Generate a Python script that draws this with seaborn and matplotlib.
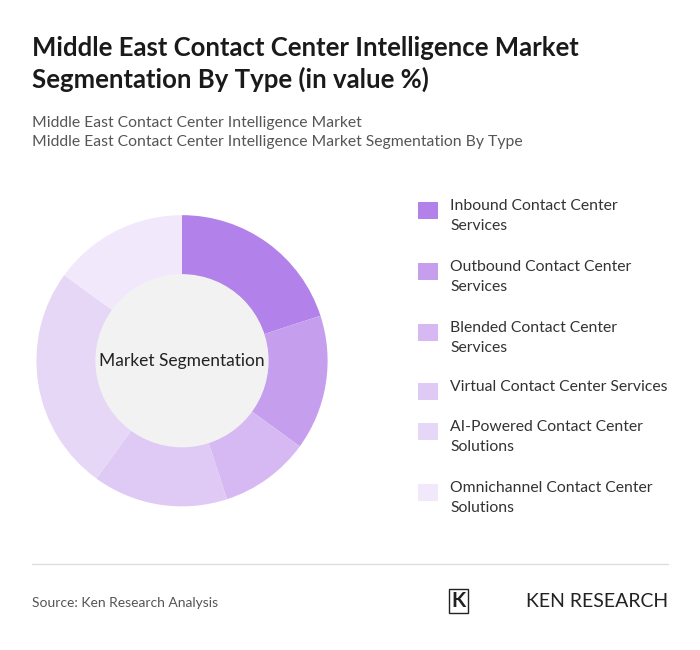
import matplotlib
matplotlib.use("Agg")
import matplotlib.pyplot as plt
import seaborn as sns
from matplotlib.patches import Circle

sns.set_theme(style="white")
plt.rcParams['font.family'] = ['Lato', 'DejaVu Sans']

labels = ["Inbound Contact Center\nServices", "Outbound Contact Center\nServices",
          "Blended Contact Center\nServices", "Virtual Contact Center Services",
          "AI-Powered Contact Center\nSolutions", "Omnichannel Contact Center\nSolutions"]
values = [20, 15, 10, 15, 25, 15]
colors = ["#b282ea", "#c69eee", "#d6b9f2", "#dfc9f5", "#e7d7f7", "#f1e9fb"]

fig = plt.figure(figsize=(7, 6.5), dpi=100)
fig.patch.set_facecolor("white")
ax = fig.add_axes([0.0, 0.145, 0.52, 0.6])
ax.pie(values, colors=colors, startangle=90, counterclock=False,
       wedgeprops=dict(width=0.41, edgecolor="none"), radius=1.0)
ax.add_patch(Circle((0, 0), 0.59, color="#f2f2f2", zorder=3))
ax.text(0, 0, "Market Segmentation", ha="center", va="center", fontsize=12.5, color="#222", zorder=4)
ax.set_aspect("equal")

fig.text(0.046, 0.945, "Middle East Contact Center Intelligence Market\nSegmentation By Type (in value %)",
         fontsize=18.5, fontweight="bold", color="#1a1a1a", va="top", linespacing=1.35)
fig.text(0.046, 0.822, "Middle East Contact Center Intelligence Market\nMiddle East Contact Center Intelligence Market Segmentation By Type",
         fontsize=11.3, color="#555", va="top", linespacing=1.5)

box_px = [211, 272, 333, 392, 432, 493]
for lab, c, p in zip(labels, colors, box_px):
    y = 1 - p / 650
    fig.patches.append(plt.Rectangle((0.597, y - 0.013), 0.029, 0.027, transform=fig.transFigure,
                                     facecolor=c, edgecolor="none"))
    fig.text(0.643, y + 0.018, lab, fontsize=11.3, color="#333", va="top", linespacing=1.5)

fig.lines.append(plt.Line2D([0.046, 0.954], [0.132, 0.132], transform=fig.transFigure, color="#ddd", lw=1))
fig.text(0.046, 0.072, "Source: Ken Research Analysis", fontsize=10, color="#555", va="center")
fig.text(0.954, 0.075, "KEN RESEARCH", fontsize=14, color="#222", ha="right", va="center")
fig.text(0.655, 0.075, "K", fontsize=15, fontweight="bold", color="#222", ha="center", va="center",
         bbox=dict(boxstyle="square,pad=0.1", fc="white", ec="#222"))
fig.savefig("out.png", dpi=100)
